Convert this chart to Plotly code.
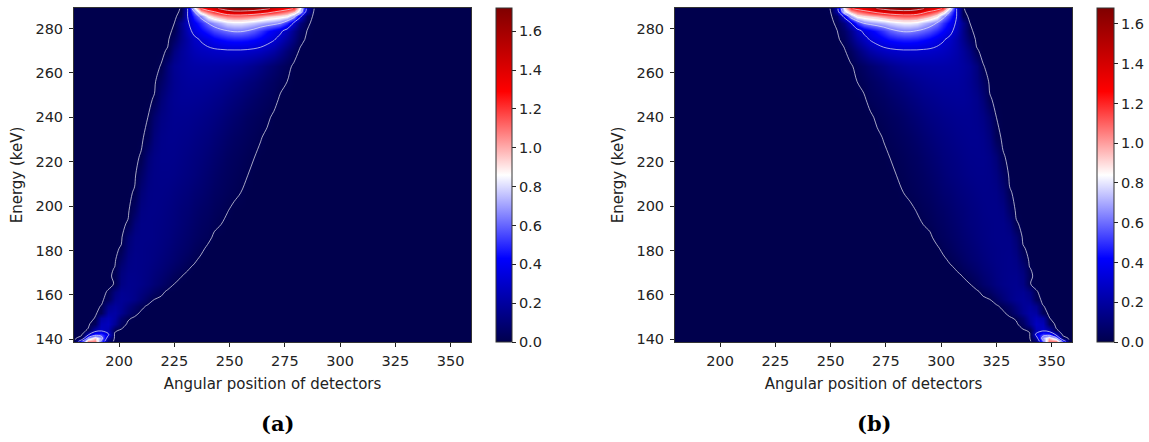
import plotly.graph_objects as go

# ---------------- data ----------------
energy = [139, 140.5, 142, 144, 147, 149.5, 152, 155, 158, 161.5, 165, 168.5, 172, 176,
          181, 186, 192, 198, 206, 214, 222, 231, 240, 248, 256, 263, 270, 275, 279,
          282.5, 285.5, 287.5, 289]                                   # keV (rows)
angle_a = list(range(180, 361, 3))                                    # panel (a) columns
angle_b = list(range(181, 359, 3))                                    # panel (b) columns

# panel (a): first non-zero column index of each row, and the non-zero values
a_start = [0, 1, 2, 2, 3, 3, 4, 4, 5, 5, 6, 6, 6, 7, 7, 8, 8, 9, 9, 10, 10, 11, 11, 12,
           13, 13, 14, 15, 15, 15, 16, 16, 16]
a_vals = [
    [0.02, 0.6, 1.15, 1.1, 0.55, 0.05],
    [0.05, 0.7, 0.95, 0.7, 0.2],
    [0.3, 0.55, 0.55, 0.35],
    [0.015, 0.22, 0.28, 0.24, 0.02],
    [0.04, 0.25, 0.27, 0.17, 0.05],
    [0.011, 0.2, 0.25, 0.2, 0.09, 0.02],
    [0.03, 0.2, 0.21, 0.16, 0.09, 0.035],
    [0.012, 0.15, 0.19, 0.17, 0.12, 0.07, 0.03],
    [0.03, 0.15, 0.175, 0.165, 0.14, 0.1, 0.05, 0.01],
    [0.013, 0.12, 0.165, 0.16, 0.145, 0.12, 0.09, 0.055, 0.025],
    [0.012, 0.13, 0.155, 0.15, 0.14, 0.12, 0.095, 0.07, 0.04, 0.01],
    [0.019, 0.12, 0.15, 0.148, 0.14, 0.125, 0.105, 0.085, 0.06, 0.035, 0.012],
    [0.0115, 0.1, 0.14, 0.145, 0.14, 0.13, 0.115, 0.1, 0.08, 0.06, 0.04, 0.015],
    [0.06, 0.13, 0.145, 0.14, 0.135, 0.125, 0.11, 0.095, 0.08, 0.06, 0.04, 0.02],
    [0.015, 0.11, 0.14, 0.14, 0.135, 0.13, 0.12, 0.105, 0.09, 0.075, 0.06, 0.04, 0.025],
    [0.09, 0.135, 0.14, 0.14, 0.135, 0.125, 0.115, 0.1, 0.085, 0.07, 0.055, 0.04, 0.03],
    [0.015, 0.11, 0.14, 0.14, 0.135, 0.13, 0.12, 0.11, 0.095, 0.08, 0.065, 0.05, 0.04,
     0.025, 0.011],
    [0.06, 0.13, 0.14, 0.14, 0.135, 0.125, 0.115, 0.1, 0.09, 0.075, 0.06, 0.05, 0.035,
     0.025, 0.012],
    [0.015, 0.1, 0.135, 0.14, 0.14, 0.135, 0.125, 0.115, 0.105, 0.09, 0.08, 0.065, 0.05,
     0.04, 0.03, 0.02, 0.01],
    [0.06, 0.12, 0.14, 0.145, 0.145, 0.14, 0.13, 0.12, 0.11, 0.095, 0.08, 0.065, 0.05,
     0.04, 0.03, 0.02, 0.011],
    [0.015, 0.1, 0.135, 0.15, 0.15, 0.148, 0.14, 0.13, 0.12, 0.11, 0.095, 0.08, 0.065,
     0.05, 0.04, 0.03, 0.02, 0.011],
    [0.03, 0.11, 0.145, 0.155, 0.155, 0.15, 0.145, 0.135, 0.125, 0.115, 0.1, 0.085, 0.07,
     0.055, 0.045, 0.035, 0.025, 0.013],
    [0.01, 0.08, 0.13, 0.15, 0.16, 0.16, 0.158, 0.152, 0.145, 0.135, 0.125, 0.11, 0.095,
     0.08, 0.065, 0.05, 0.04, 0.03, 0.02],
    [0.015, 0.1, 0.145, 0.165, 0.175, 0.175, 0.172, 0.168, 0.16, 0.15, 0.14, 0.125, 0.11,
     0.095, 0.08, 0.065, 0.05, 0.04, 0.03],
    [0.06, 0.12, 0.16, 0.18, 0.19, 0.19, 0.19, 0.185, 0.18, 0.17, 0.16, 0.145, 0.13, 0.115,
     0.1, 0.08, 0.062, 0.045, 0.028, 0.01],
    [0.012, 0.11, 0.165, 0.19, 0.205, 0.212, 0.215, 0.215, 0.213, 0.21, 0.205, 0.2, 0.19,
     0.175, 0.155, 0.13, 0.105, 0.08, 0.055, 0.03],
    [0.015, 0.12, 0.18, 0.22, 0.25, 0.27, 0.28, 0.29, 0.295, 0.3, 0.3, 0.3, 0.295, 0.285,
     0.27, 0.245, 0.21, 0.16, 0.1, 0.045],
    [0.06, 0.15, 0.22, 0.28, 0.32, 0.36, 0.4, 0.43, 0.45, 0.46, 0.46, 0.45, 0.43, 0.4,
     0.36, 0.32, 0.26, 0.19, 0.11, 0.03],
    [0.017, 0.14, 0.26, 0.35, 0.42, 0.48, 0.54, 0.58, 0.61, 0.63, 0.63, 0.61, 0.57, 0.51,
     0.45, 0.39, 0.34, 0.26, 0.15, 0.06, 0.01],
    [0.01, 0.15, 0.29, 0.4, 0.5, 0.61, 0.68, 0.74, 0.8, 0.82, 0.82, 0.8, 0.77, 0.73,
     0.7, 0.67, 0.63, 0.5, 0.3, 0.12, 0.02],
    [0.03, 0.31, 0.5, 0.66, 0.88, 0.98, 1.05, 1.1, 1.12, 1.12, 1.1, 1.07, 1.03, 0.98,
     0.95, 0.92, 0.88, 0.7, 0.35, 0.06],
    [0.015, 0.31, 0.6, 0.95, 1.1, 1.2, 1.3, 1.4, 1.45, 1.45, 1.43, 1.4, 1.35, 1.3,
     1.22, 1.15, 1.08, 0.98, 0.75, 0.2, 0.01],
    [0.012, 0.31, 0.8, 1.2, 1.35, 1.45, 1.55, 1.65, 1.7, 1.72, 1.7, 1.68, 1.62, 1.55,
     1.45, 1.38, 1.3, 1.2, 0.85, 0.25, 0.011],
]

# panel (b)
b_start = [54, 54, 54, 53, 52, 51, 50, 49, 47, 46, 44, 43, 42, 41, 40, 39, 37, 36, 34, 33,
           32, 31, 30, 29, 27, 27, 26, 25, 24, 24, 24, 23, 23]
b_vals = [
    [0.05, 0.55, 1.1, 1.15, 0.6, 0.02],
    [0.2, 0.7, 0.95, 0.7, 0.05],
    [0.35, 0.55, 0.55, 0.3],
    [0.02, 0.24, 0.28, 0.22, 0.015],
    [0.05, 0.17, 0.27, 0.25, 0.04],
    [0.02, 0.09, 0.2, 0.25, 0.2, 0.011],
    [0.035, 0.09, 0.16, 0.21, 0.2, 0.03],
    [0.03, 0.07, 0.12, 0.17, 0.19, 0.15, 0.012],
    [0.01, 0.05, 0.1, 0.14, 0.165, 0.175, 0.15, 0.03],
    [0.025, 0.055, 0.09, 0.12, 0.145, 0.16, 0.165, 0.12, 0.013],
    [0.01, 0.04, 0.07, 0.095, 0.12, 0.14, 0.15, 0.155, 0.13, 0.012],
    [0.012, 0.035, 0.06, 0.085, 0.105, 0.125, 0.14, 0.148, 0.15, 0.12, 0.019],
    [0.015, 0.04, 0.06, 0.08, 0.1, 0.115, 0.13, 0.14, 0.145, 0.14, 0.1, 0.0115],
    [0.02, 0.04, 0.06, 0.08, 0.095, 0.11, 0.125, 0.135, 0.14, 0.145, 0.13, 0.06],
    [0.025, 0.04, 0.06, 0.075, 0.09, 0.105, 0.12, 0.13, 0.135, 0.14, 0.14, 0.11, 0.015],
    [0.03, 0.04, 0.055, 0.07, 0.085, 0.1, 0.115, 0.125, 0.135, 0.14, 0.14, 0.135, 0.09],
    [0.011, 0.025, 0.04, 0.05, 0.065, 0.08, 0.095, 0.11, 0.12, 0.13, 0.135, 0.14, 0.14,
     0.11, 0.015],
    [0.012, 0.025, 0.035, 0.05, 0.06, 0.075, 0.09, 0.1, 0.115, 0.125, 0.135, 0.14, 0.14,
     0.13, 0.06],
    [0.01, 0.02, 0.03, 0.04, 0.05, 0.065, 0.08, 0.09, 0.105, 0.115, 0.125, 0.135, 0.14,
     0.14, 0.135, 0.1, 0.015],
    [0.011, 0.02, 0.03, 0.04, 0.05, 0.065, 0.08, 0.095, 0.11, 0.12, 0.13, 0.14, 0.145,
     0.145, 0.14, 0.12, 0.06],
    [0.011, 0.02, 0.03, 0.04, 0.05, 0.065, 0.08, 0.095, 0.11, 0.12, 0.13, 0.14, 0.148,
     0.15, 0.15, 0.135, 0.1, 0.015],
    [0.013, 0.025, 0.035, 0.045, 0.055, 0.07, 0.085, 0.1, 0.115, 0.125, 0.135, 0.145, 0.15,
     0.155, 0.155, 0.145, 0.11, 0.03],
    [0.02, 0.03, 0.04, 0.05, 0.065, 0.08, 0.095, 0.11, 0.125, 0.135, 0.145, 0.152, 0.158,
     0.16, 0.16, 0.15, 0.13, 0.08, 0.01],
    [0.03, 0.04, 0.05, 0.065, 0.08, 0.095, 0.11, 0.125, 0.14, 0.15, 0.16, 0.168, 0.172,
     0.175, 0.175, 0.165, 0.145, 0.1, 0.015],
    [0.01, 0.028, 0.045, 0.062, 0.08, 0.1, 0.115, 0.13, 0.145, 0.16, 0.17, 0.18, 0.185,
     0.19, 0.19, 0.19, 0.18, 0.16, 0.12, 0.06],
    [0.03, 0.055, 0.08, 0.105, 0.13, 0.155, 0.175, 0.19, 0.2, 0.205, 0.21, 0.213, 0.215,
     0.215, 0.212, 0.205, 0.19, 0.165, 0.11, 0.012],
    [0.045, 0.1, 0.16, 0.21, 0.245, 0.27, 0.285, 0.295, 0.3, 0.3, 0.3, 0.295, 0.29, 0.28,
     0.27, 0.25, 0.22, 0.18, 0.12, 0.015],
    [0.03, 0.11, 0.19, 0.26, 0.32, 0.36, 0.4, 0.43, 0.45, 0.46, 0.46, 0.45, 0.43, 0.4,
     0.36, 0.32, 0.28, 0.22, 0.15, 0.06],
    [0.01, 0.06, 0.15, 0.26, 0.34, 0.39, 0.45, 0.51, 0.57, 0.61, 0.63, 0.63, 0.61, 0.58,
     0.54, 0.48, 0.42, 0.35, 0.26, 0.14, 0.017],
    [0.02, 0.12, 0.3, 0.5, 0.63, 0.67, 0.7, 0.73, 0.77, 0.8, 0.82, 0.82, 0.8, 0.74,
     0.68, 0.61, 0.5, 0.4, 0.29, 0.15, 0.01],
    [0.06, 0.35, 0.7, 0.88, 0.92, 0.95, 0.98, 1.03, 1.07, 1.1, 1.12, 1.12, 1.1, 1.05,
     0.98, 0.88, 0.66, 0.5, 0.31, 0.03],
    [0.01, 0.2, 0.74, 0.96, 1.06, 1.13, 1.2, 1.27, 1.32, 1.37, 1.4, 1.42, 1.42, 1.37,
     1.27, 1.18, 1.08, 0.93, 0.6, 0.31, 0.015],
    [0.011, 0.25, 0.85, 1.18, 1.28, 1.35, 1.42, 1.52, 1.58, 1.64, 1.66, 1.68, 1.66, 1.61,
     1.52, 1.42, 1.32, 1.18, 0.8, 0.31, 0.012],
]

x_ticks = [200, 225, 250, 275, 300, 325, 350]
y_ticks = [140, 160, 180, 200, 220, 240, 260, 280]
cb_ticks = [0.0, 0.2, 0.4, 0.6, 0.8, 1.0, 1.2, 1.4, 1.6]
panel_labels = ["(a)", "(b)"]


def build(starts, vals, ncols):
    z = []
    for s, v in zip(starts, vals):
        row = [0.0] * ncols
        row[s:s + len(v)] = v
        z.append(row)
    return z


za = build(a_start, a_vals, len(angle_a))
zb = build(b_start, b_vals, len(angle_b))
max_a = max(max(r) for r in za)
max_b = max(max(r) for r in zb)

seismic = [[0.0, "rgb(0,0,77)"], [0.25, "rgb(0,0,255)"], [0.5, "rgb(255,255,255)"],
           [0.75, "rgb(255,0,0)"], [1.0, "rgb(128,0,0)"]]

W, H = 1149, 442
FONT = "DejaVu Sans"
TXT = "#222222"
plot_top, plot_bot = 8, 342
ydom = [1 - plot_bot / H, 1 - plot_top / H]
xdom_a = [74 / W, 471 / W]
xdom_b = [675 / W, 1072 / W]


def cbar(xpx, thick):
    return dict(x=xpx / W, xanchor="left", y=ydom[0], yanchor="bottom",
                len=plot_bot - plot_top, lenmode="pixels", thickness=thick,
                thicknessmode="pixels", xpad=0, ypad=0, outlinewidth=1,
                outlinecolor="#333333", ticks="outside", ticklen=4, tickcolor=TXT,
                tickvals=cb_ticks, tickformat=".1f",
                tickfont=dict(family=FONT, size=14.5, color=TXT))


line_style = dict(color="rgba(235,235,245,0.7)", width=1)
levels = dict(start=0.01, end=1.51, size=0.3, coloring="none")

fig = go.Figure()
fig.add_trace(go.Heatmap(x=angle_a, y=energy, z=za, zsmooth="best", colorscale=seismic,
                         zmin=0, zmax=max_a, colorbar=cbar(496, 16), xaxis="x", yaxis="y",
                         hoverinfo="skip"))
fig.add_trace(go.Contour(x=angle_a, y=energy, z=za, autocontour=False, contours=levels,
                         line=line_style, showscale=False, xaxis="x", yaxis="y",
                         hoverinfo="skip"))
fig.add_trace(go.Heatmap(x=angle_b, y=energy, z=zb, zsmooth="best", colorscale=seismic,
                         zmin=0, zmax=max_b, colorbar=cbar(1097, 17), xaxis="x2", yaxis="y2",
                         hoverinfo="skip"))
fig.add_trace(go.Contour(x=angle_b, y=energy, z=zb, autocontour=False, contours=levels,
                         line=line_style, showscale=False, xaxis="x2", yaxis="y2",
                         hoverinfo="skip"))

axis_common = dict(showline=True, mirror=True, linecolor="#333333", linewidth=1,
                   showgrid=False, zeroline=False, ticks="outside", ticklen=4,
                   tickcolor=TXT, tickfont=dict(family=FONT, size=14.5, color=TXT),
                   automargin=False)

xa = dict(axis_common, range=[179.6, 359.2], tickvals=x_ticks, ticklabelstandoff=2,
          title=dict(text="Angular position of detectors", standoff=10,
                     font=dict(family=FONT, size=15, color=TXT)))
ya = dict(axis_common, range=[138.8, 289.2], tickvals=y_ticks, domain=ydom,
          ticklabelstandoff=3,
          title=dict(text="Energy (keV)", standoff=9,
                     font=dict(family=FONT, size=15, color=TXT)))

fig.update_layout(
    width=W, height=H, margin=dict(l=0, r=0, t=0, b=0),
    paper_bgcolor="white", plot_bgcolor="white", showlegend=False,
    xaxis=dict(xa, domain=xdom_a, anchor="y"),
    yaxis=dict(ya, anchor="x"),
    xaxis2=dict(xa, domain=xdom_b, anchor="y2"),
    yaxis2=dict(ya, anchor="x2"),
    annotations=[
        dict(text="<b>" + panel_labels[0] + "</b>", x=277 / W, y=1 - 423 / H,
             xref="paper", yref="paper", xanchor="center", yanchor="middle",
             showarrow=False, font=dict(family="DejaVu Serif", size=21, color="black")),
        dict(text="<b>" + panel_labels[1] + "</b>", x=874 / W, y=1 - 423 / H,
             xref="paper", yref="paper", xanchor="center", yanchor="middle",
             showarrow=False, font=dict(family="DejaVu Serif", size=21, color="black")),
    ],
)

fig.write_html("out.html", config={"displayModeBar": False},
               post_script="document.body.style.margin='0';"
                           "document.body.style.overflow='hidden';")
